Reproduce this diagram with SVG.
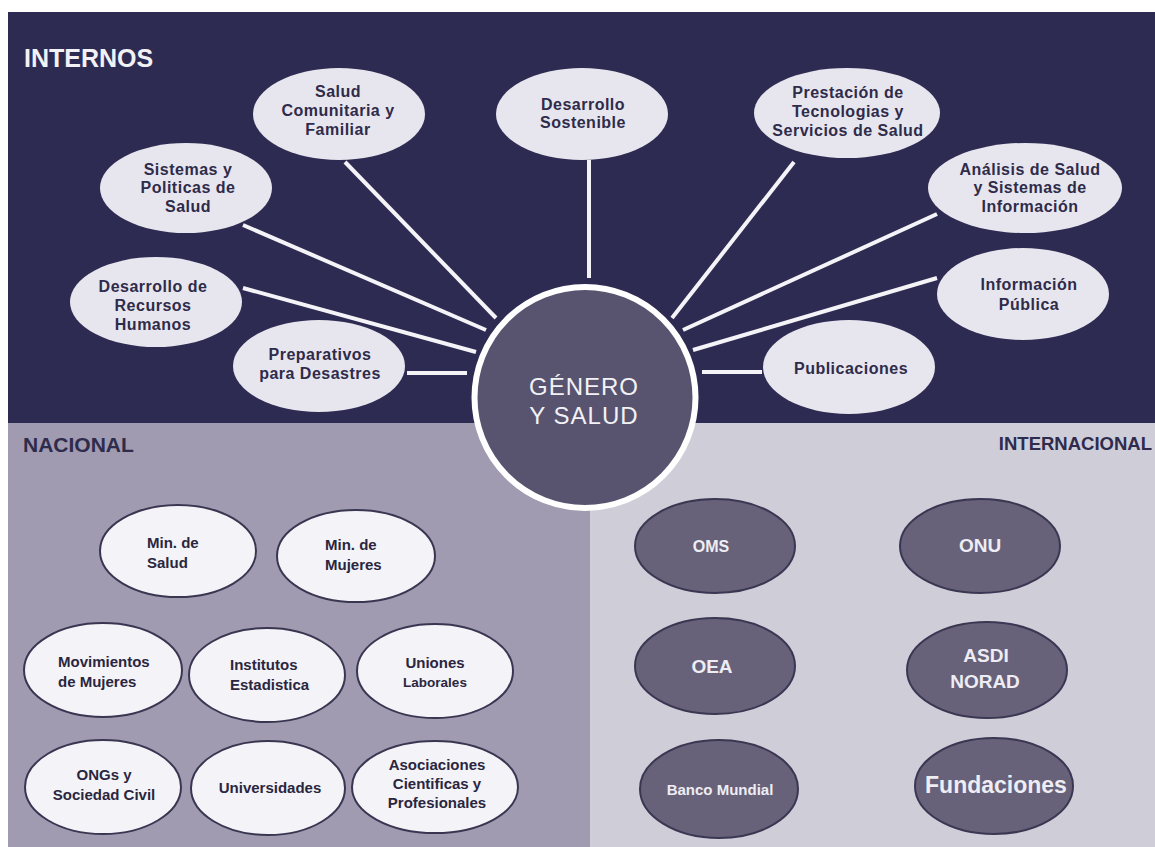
<svg xmlns="http://www.w3.org/2000/svg" width="1155" height="847" viewBox="0 0 1155 847">
  <style>
    .t { font-family: "Liberation Sans", Arial, sans-serif; font-weight: bold; text-anchor: middle; }
    .inner ellipse { fill: #e7e6ee; }
    .inner text { fill: #2f2b4a; font-size: 16px; letter-spacing: 0.5px; }
    .nac ellipse { fill: #f4f3f7; stroke: #3a3652; stroke-width: 2; }
    .nac text { fill: #2a2640; font-size: 15px; }
    .intl ellipse { fill: #67627a; stroke: #3b3752; stroke-width: 2; }
    .intl text { fill: #eeedf3; }
    .conn line { stroke: #f4f4f8; stroke-width: 4; stroke-linecap: butt; }
    .region { font-family: "Liberation Sans", Arial, sans-serif; font-weight: bold; }
  </style>

  <!-- page background and the three regions -->
  <rect x="0" y="0" width="1155" height="847" fill="#ffffff"/>
  <rect x="8" y="12" width="1147" height="411" fill="#2e2b52"/>
  <rect x="8" y="423" width="582" height="424" fill="#a09bb0"/>
  <rect x="590" y="423" width="565" height="424" fill="#cfcdd8"/>

  <text class="region" x="24" y="67" font-size="25" fill="#f2f2f6">INTERNOS</text>
  <text class="region" x="23" y="452" font-size="21" fill="#2e2b4c">NACIONAL</text>
  <text class="region" x="1152" y="450" font-size="18.5" fill="#2e2b4c" text-anchor="end">INTERNACIONAL</text>

  <!-- spokes to the central node -->
  <g id="connectors" class="conn">
    <line x1="345" y1="162" x2="496" y2="318"/>
    <line x1="589" y1="160" x2="589" y2="278"/>
    <line x1="794" y1="162" x2="672" y2="318"/>
    <line x1="243" y1="225" x2="486" y2="330"/>
    <line x1="937" y1="214" x2="683" y2="330"/>
    <line x1="243" y1="288" x2="476" y2="352"/>
    <line x1="937" y1="278" x2="693" y2="350"/>
    <line x1="407" y1="373" x2="467" y2="373"/>
    <line x1="702" y1="372" x2="762" y2="372"/>
  </g>

  <!-- internal areas -->
  <g id="n-salud-comunitaria" class="inner t">
    <ellipse cx="339" cy="114" rx="86" ry="46"/>
    <text x="338" y="97">Salud</text>
    <text x="338" y="116">Comunitaria y</text>
    <text x="338" y="135">Familiar</text>
  </g>
  <g id="n-desarrollo-sostenible" class="inner t">
    <ellipse cx="582" cy="114" rx="86" ry="46"/>
    <text x="583" y="110">Desarrollo</text>
    <text x="583" y="128">Sostenible</text>
  </g>
  <g id="n-prestacion" class="inner t">
    <ellipse cx="847" cy="113" rx="93" ry="45"/>
    <text x="848" y="98">Prestación de</text>
    <text x="848" y="117">Tecnologias y</text>
    <text x="848" y="136">Servicios de Salud</text>
  </g>
  <g id="n-sistemas-politicas" class="inner t">
    <ellipse cx="186" cy="188" rx="86" ry="45"/>
    <text x="188" y="175">Sistemas y</text>
    <text x="188" y="193">Politicas de</text>
    <text x="188" y="212">Salud</text>
  </g>
  <g id="n-analisis" class="inner t">
    <ellipse cx="1025" cy="188" rx="97" ry="45"/>
    <text x="1030" y="175">Análisis de Salud</text>
    <text x="1030" y="193">y Sistemas de</text>
    <text x="1030" y="212">Información</text>
  </g>
  <g id="n-recursos-humanos" class="inner t">
    <ellipse cx="156" cy="302" rx="86" ry="45"/>
    <text x="153" y="292">Desarrollo de</text>
    <text x="153" y="311">Recursos</text>
    <text x="153" y="330">Humanos</text>
  </g>
  <g id="n-informacion-publica" class="inner t">
    <ellipse cx="1023" cy="294" rx="86" ry="46"/>
    <text x="1029" y="290">Información</text>
    <text x="1029" y="310">Pública</text>
  </g>
  <g id="n-preparativos" class="inner t">
    <ellipse cx="319" cy="366" rx="86" ry="46"/>
    <text x="320" y="360">Preparativos</text>
    <text x="320" y="379">para Desastres</text>
  </g>
  <g id="n-publicaciones" class="inner t">
    <ellipse cx="849" cy="367" rx="86" ry="47"/>
    <text x="851" y="374">Publicaciones</text>
  </g>

  <!-- central node -->
  <g id="n-genero-salud">
    <circle cx="585" cy="397.5" r="110.5" fill="#58546f" stroke="#ffffff" stroke-width="6"/>
    <text x="584" y="395" font-family="Liberation Sans, Arial, sans-serif" font-size="24" letter-spacing="1" fill="#f2f2f6" text-anchor="middle">GÉNERO</text>
    <text x="584" y="424" font-family="Liberation Sans, Arial, sans-serif" font-size="24" letter-spacing="1" fill="#f2f2f6" text-anchor="middle">Y SALUD</text>
  </g>

  <!-- national actors -->
  <g id="n-min-salud" class="nac t">
    <ellipse cx="178" cy="551" rx="78" ry="46"/>
    <text x="147" y="548" text-anchor="start">Min. de</text>
    <text x="147" y="568" text-anchor="start">Salud</text>
  </g>
  <g id="n-min-mujeres" class="nac t">
    <ellipse cx="356" cy="556" rx="79" ry="46"/>
    <text x="325" y="550" text-anchor="start">Min. de</text>
    <text x="325" y="570" text-anchor="start">Mujeres</text>
  </g>
  <g id="n-movimientos" class="nac t">
    <ellipse cx="103" cy="670" rx="79" ry="47"/>
    <text x="58" y="667" text-anchor="start">Movimientos</text>
    <text x="58" y="687" text-anchor="start">de Mujeres</text>
  </g>
  <g id="n-institutos" class="nac t">
    <ellipse cx="267" cy="675" rx="78" ry="47"/>
    <text x="230" y="670" text-anchor="start">Institutos</text>
    <text x="230" y="690" text-anchor="start">Estadistica</text>
  </g>
  <g id="n-uniones" class="nac t">
    <ellipse cx="435" cy="671" rx="78" ry="47"/>
    <text x="435" y="668">Uniones</text>
    <text x="435" y="687" style="font-size:13.5px">Laborales</text>
  </g>
  <g id="n-ongs" class="nac t">
    <ellipse cx="103" cy="787" rx="78" ry="47"/>
    <text x="104" y="780">ONGs y</text>
    <text x="104" y="800">Sociedad Civil</text>
  </g>
  <g id="n-universidades" class="nac t">
    <ellipse cx="268" cy="788" rx="77" ry="47"/>
    <text x="270" y="793">Universidades</text>
  </g>
  <g id="n-asociaciones" class="nac t">
    <ellipse cx="435" cy="787" rx="83" ry="46"/>
    <text x="437" y="770">Asociaciones</text>
    <text x="437" y="789">Cientificas y</text>
    <text x="437" y="808">Profesionales</text>
  </g>

  <!-- international actors -->
  <g id="n-oms" class="intl t">
    <ellipse cx="715" cy="546" rx="80" ry="47"/>
    <text x="711" y="552" font-size="16">OMS</text>
  </g>
  <g id="n-onu" class="intl t">
    <ellipse cx="980" cy="546" rx="80" ry="47"/>
    <text x="980" y="552" font-size="19">ONU</text>
  </g>
  <g id="n-oea" class="intl t">
    <ellipse cx="715" cy="666" rx="80" ry="48"/>
    <text x="712" y="673" font-size="19">OEA</text>
  </g>
  <g id="n-asdi-norad" class="intl t">
    <ellipse cx="987" cy="670" rx="80" ry="48"/>
    <text x="986" y="662" font-size="19">ASDI</text>
    <text x="985" y="688" font-size="19">NORAD</text>
  </g>
  <g id="n-banco-mundial" class="intl t">
    <ellipse cx="719" cy="789" rx="79" ry="49"/>
    <text x="720" y="795" font-size="15">Banco Mundial</text>
  </g>
  <g id="n-fundaciones" class="intl t">
    <ellipse cx="994" cy="786" rx="79" ry="48"/>
    <text x="996" y="793" font-size="23">Fundaciones</text>
  </g>
</svg>
